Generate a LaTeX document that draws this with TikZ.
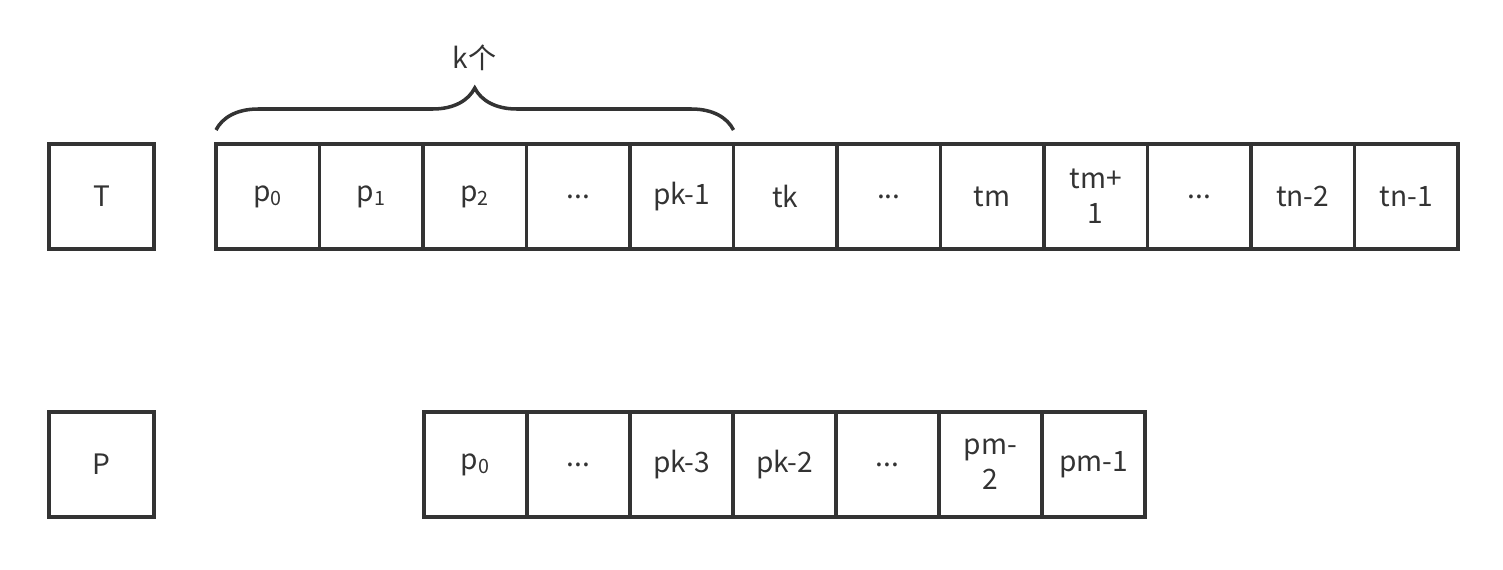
\documentclass[tikz,border=0pt]{standalone}
\usepackage{fontspec}
\setmainfont{Noto Sans CJK SC}
\usepackage{xcolor}
\usetikzlibrary{positioning,decorations.pathreplacing}
\definecolor{cellink}{RGB}{51,51,51}

\begin{document}
\begin{tikzpicture}[
  font=\fontsize{20}{25}\selectfont,
  cell/.style={draw=cellink, line width=2.5pt, fill=white, align=center, text=cellink,
               minimum width=2.5875cm, minimum height=2.625cm, inner sep=0pt, outer sep=0pt},
  pcell/.style={cell, minimum width=2.575cm},
  tag/.style={cell, minimum width=2.625cm},
  brc/.style={decorate, decoration={brace, amplitude=1.05cm}, draw=cellink, line width=2.5pt}
]
\useasboundingbox (0,0) rectangle (37.575,-14.225);
% text array T
\node[tag] (tlab) at (2.5375,-4.9125) {T};
\node[cell] (t0) at (6.694,-4.9125) {p\textsubscript{0}};
\node[cell, right=0pt of t0] (t1) {p\textsubscript{1}};
\node[cell, right=0pt of t1] (t2) {p\textsubscript{2}};
\node[cell, right=0pt of t2] (t3) {...};
\node[cell, right=0pt of t3] (t4) {pk-1};
\node[cell, right=0pt of t4] (t5) {tk};
\node[cell, right=0pt of t5] (t6) {...};
\node[cell, right=0pt of t6] (t7) {tm};
\node[cell, right=0pt of t7] (t8) {tm+\\1};
\node[cell, right=0pt of t8] (t9) {...};
\node[cell, right=0pt of t9] (t10) {tn-2};
\node[cell, right=0pt of t10] (t11) {tn-1};
% pattern P
\node[tag] (plab) at (2.5375,-11.6125) {P};
\node[pcell] (p0) at (11.888,-11.6125) {p\textsubscript{0}};
\node[pcell, right=0pt of p0] (p1) {...};
\node[pcell, right=0pt of p1] (p2) {pk-3};
\node[pcell, right=0pt of p2] (p3) {pk-2};
\node[pcell, right=0pt of p3] (p4) {...};
\node[pcell, right=0pt of p4] (p5) {pm-\\2};
\node[pcell, right=0pt of p5] (p6) {pm-1};
% brace over the first k
\draw[brc] ([yshift=0.35cm]t0.north west) -- ([yshift=0.35cm]t4.north east)
  node[midway, yshift=1.8cm, text=cellink] (kcnt) {k个};
\end{tikzpicture}
\end{document}
